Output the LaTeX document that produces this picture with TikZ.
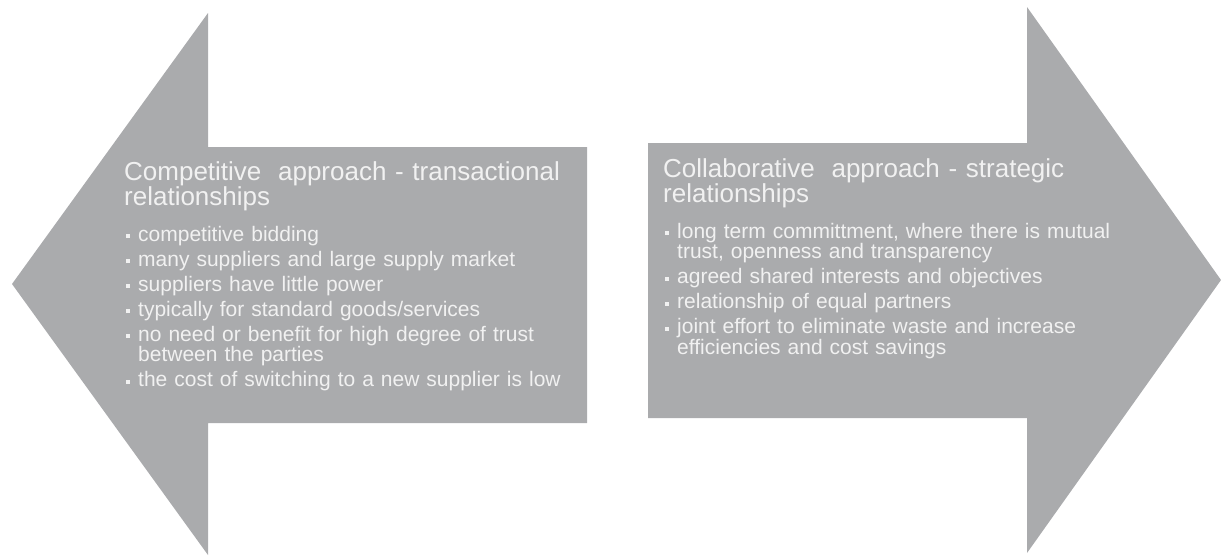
\documentclass[tikz,border=0pt]{standalone}
\usepackage{fontspec}
\setmainfont{Liberation Sans}
\usetikzlibrary{positioning}
\definecolor{ArrowGray}{RGB}{170,171,173}
\definecolor{TextLight}{RGB}{241,241,241}
\newcommand{\bitem}[1]{\par\hangindent=12pt\hangafter=1\noindent
  \makebox[12pt][l]{\raisebox{3pt}{\rule{4pt}{4pt}}}#1}
\tikzset{%
  arrowbody/.style={fill=ArrowGray, draw=none},
  heading/.style  ={anchor=north west, inner sep=0pt, text=TextLight,
                    text width=470pt, align=left,
                    font=\fontsize{26}{25}\selectfont},
  points/.style   ={anchor=north west, inner sep=0pt, text=TextLight,
                    text width=470pt, align=left,
                    font=\fontsize{21}{20.5}\selectfont,
                    execute at begin node={\setlength{\parskip}{4.5pt}}}
}
\begin{document}
\begin{tikzpicture}[x=1pt, y=-1pt]
  \useasboundingbox (0,0) rectangle (1221,555);
  % left arrow
  \fill[arrowbody] (12,284) -- (208,13) -- (208,147) -- (587,147)
    -- (587,423) -- (208,423) -- (208,555) -- cycle;
  % right arrow
  \fill[arrowbody] (1221,280) -- (1027,7) -- (1027,143) -- (648,143)
    -- (648,418) -- (1027,418) -- (1027,553) -- cycle;
  \node[heading] (ttlL) at (124,161) {Competitive\hspace{8pt} approach - transactional\\relationships};
  \node[points] (lstL) at (126,216) {%
    \bitem{competitive bidding}
    \bitem{many suppliers and large supply market}
    \bitem{suppliers have little power}
    \bitem{typically for standard goods/services}
    \bitem{no need or benefit for high degree of trust\newline between the parties}
    \bitem{the cost of switching to a new supplier is low}\par};
  \node[heading] (ttlR) at (663,158) {Collaborative\hspace{8pt} approach - strategic\\relationships};
  \node[points] (lstR) at (665,213) {%
    \bitem{long term committment, where there is mutual\newline trust, openness and transparency}
    \bitem{agreed shared interests and objectives}
    \bitem{relationship of equal partners}
    \bitem{joint effort to eliminate waste and increase\newline efficiencies and cost savings}\par};
\end{tikzpicture}
\end{document}
